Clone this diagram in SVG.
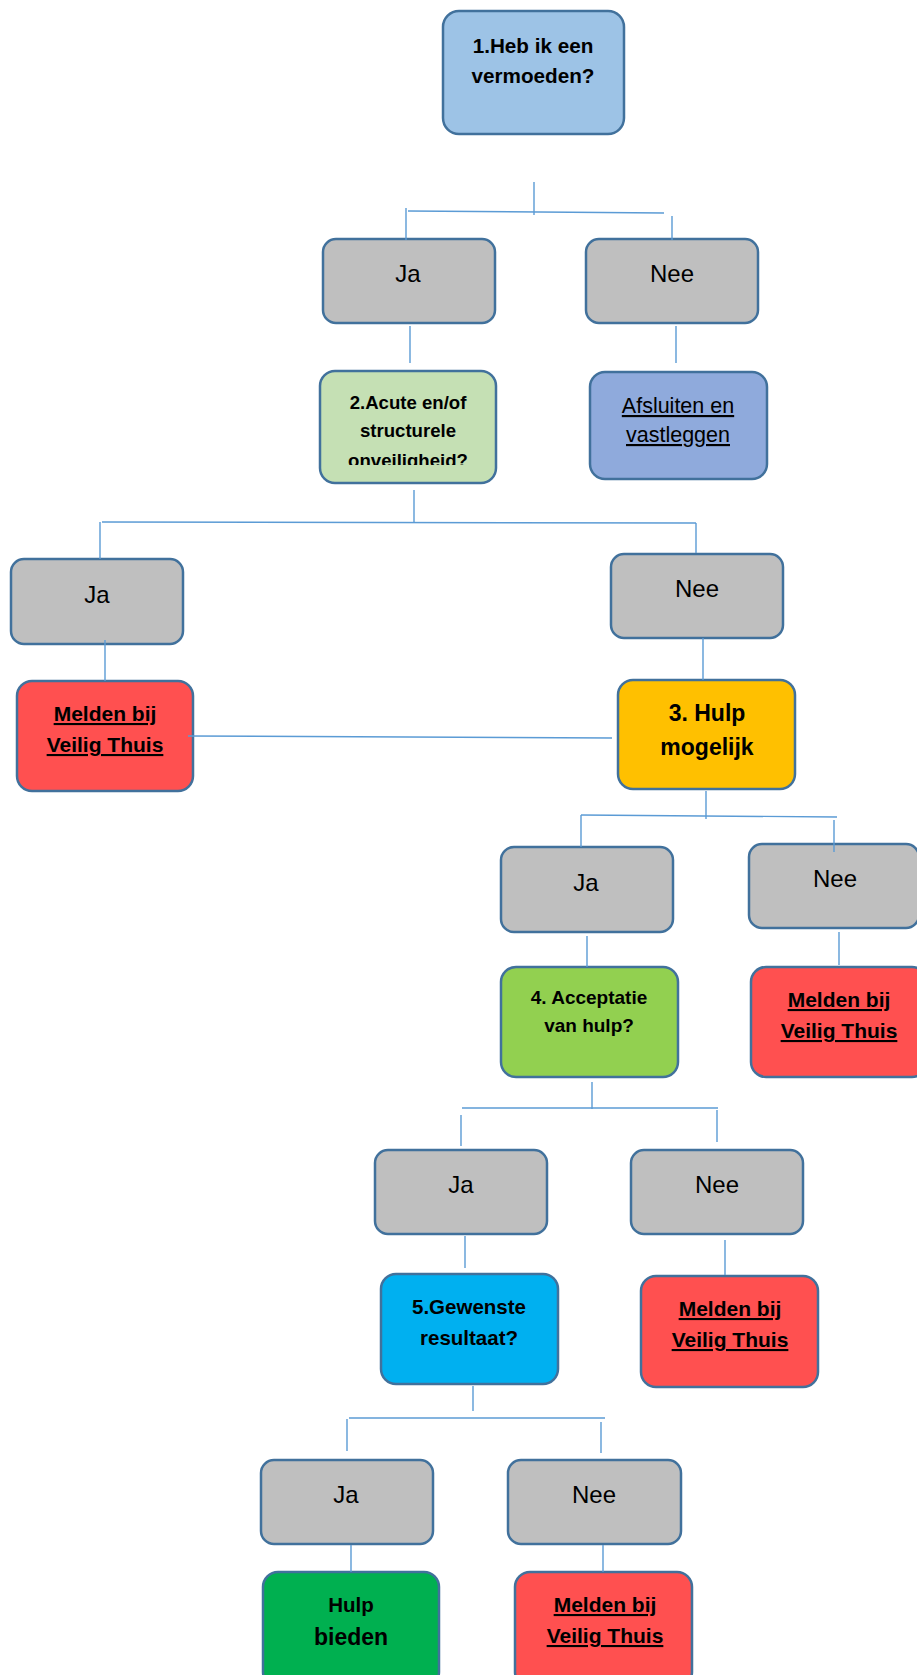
<svg xmlns="http://www.w3.org/2000/svg" width="917" height="1675" viewBox="0 0 917 1675">
<style>
.box{stroke:#41719C;stroke-width:2.5}
.gray{fill:#BFBFBF}
.red{fill:#FF5050}
.yn{font-family:"Liberation Sans",Arial,sans-serif;font-size:24px;fill:#000;text-anchor:middle}
.b{font-family:"Liberation Sans",Arial,sans-serif;font-weight:bold;fill:#000;text-anchor:middle}
.mel{font-size:21px;text-decoration:underline}
.con line{stroke:#5B9BD5;stroke-width:1.4}
</style>
<defs>
<clipPath id="clip2"><rect x="300" y="360" width="220" height="105"/></clipPath>
</defs>
<rect width="917" height="1675" fill="#fff"/>

<g id="n1"><rect class="box" x="443" y="11" width="181" height="123" rx="16" fill="#9DC3E6"/>
<text class="b" font-size="20.7" x="533" y="53">1.Heb ik een</text>
<text class="b" font-size="20.7" x="533" y="83">vermoeden?</text></g>

<g id="ja1"><rect class="box gray" x="323" y="239" width="172" height="84" rx="13"/><text class="yn" x="408" y="282">Ja</text></g>
<g id="nee1"><rect class="box gray" x="586" y="239" width="172" height="84" rx="13"/><text class="yn" x="672" y="282">Nee</text></g>

<g id="n2"><rect class="box" x="320" y="371" width="176" height="112" rx="15" fill="#C5E0B4"/>
<g clip-path="url(#clip2)">
<text class="b" font-size="18.6" x="408" y="409">2.Acute en/of</text>
<text class="b" font-size="18.6" x="408" y="437">structurele</text>
<text class="b" font-size="18.6" x="408" y="467">onveiligheid?</text></g></g>

<g id="afsluiten"><rect class="box" x="590" y="372" width="177" height="107" rx="15" fill="#8FAADC"/>
<text class="yn" x="678" y="413" style="font-size:21.5px;text-decoration:underline">Afsluiten en</text>
<text class="yn" x="678" y="442" style="font-size:21.5px;text-decoration:underline">vastleggen</text></g>

<g id="ja2"><rect class="box gray" x="11" y="559" width="172" height="85" rx="13"/><text class="yn" x="97" y="603">Ja</text></g>
<g id="nee2"><rect class="box gray" x="611" y="554" width="172" height="84" rx="13"/><text class="yn" x="697" y="597">Nee</text></g>

<g id="melden1"><rect class="box red" x="17" y="681" width="176" height="110" rx="15"/>
<text class="b mel" x="105" y="721">Melden bij</text>
<text class="b mel" x="105" y="752">Veilig Thuis</text></g>

<g id="n3"><rect class="box" x="618" y="680" width="177" height="109" rx="15" fill="#FFC000"/>
<text class="b" font-size="23" x="707" y="721">3. Hulp</text>
<text class="b" font-size="23" x="707" y="755">mogelijk</text></g>

<g id="ja3"><rect class="box gray" x="501" y="847" width="172" height="85" rx="13"/><text class="yn" x="586" y="891">Ja</text></g>
<g id="nee3"><rect class="box gray" x="749" y="844" width="170" height="84" rx="13"/><text class="yn" x="835" y="887">Nee</text></g>

<g id="n4"><rect class="box" x="501" y="967" width="177" height="110" rx="15" fill="#92D050"/>
<text class="b" font-size="19" x="589" y="1004">4. Acceptatie</text>
<text class="b" font-size="19" x="589" y="1032">van hulp?</text></g>

<g id="melden2"><rect class="box red" x="751" y="967" width="176" height="110" rx="15"/>
<text class="b mel" x="839" y="1007">Melden bij</text>
<text class="b mel" x="839" y="1038">Veilig Thuis</text></g>

<g id="ja4"><rect class="box gray" x="375" y="1150" width="172" height="84" rx="13"/><text class="yn" x="461" y="1193">Ja</text></g>
<g id="nee4"><rect class="box gray" x="631" y="1150" width="172" height="84" rx="13"/><text class="yn" x="717" y="1193">Nee</text></g>

<g id="n5"><rect class="box" x="381" y="1274" width="177" height="110" rx="15" fill="#00B0F0"/>
<text class="b" font-size="20.5" x="469" y="1314">5.Gewenste</text>
<text class="b" font-size="20.5" x="469" y="1345">resultaat?</text></g>

<g id="melden3"><rect class="box red" x="641" y="1276" width="177" height="111" rx="15"/>
<text class="b mel" x="730" y="1316">Melden bij</text>
<text class="b mel" x="730" y="1347">Veilig Thuis</text></g>

<g id="ja5"><rect class="box gray" x="261" y="1460" width="172" height="84" rx="13"/><text class="yn" x="346" y="1503">Ja</text></g>
<g id="nee5"><rect class="box gray" x="508" y="1460" width="173" height="84" rx="13"/><text class="yn" x="594" y="1503">Nee</text></g>

<g id="hulpbieden"><rect class="box" x="263" y="1572" width="176" height="115" rx="15" fill="#00B050"/>
<text class="b" font-size="20.5" x="351" y="1612">Hulp</text>
<text class="b" font-size="23" x="351" y="1645">bieden</text></g>

<g id="melden4"><rect class="box red" x="515" y="1572" width="177" height="115" rx="15"/>
<text class="b mel" x="605" y="1612">Melden bij</text>
<text class="b mel" x="605" y="1643">Veilig Thuis</text></g>

<g id="connectors" class="con">
<line x1="534" y1="182" x2="534" y2="215"/>
<line x1="408" y1="211" x2="664" y2="213"/>
<line x1="406" y1="208" x2="406" y2="240"/>
<line x1="672" y1="216" x2="672" y2="240"/>
<line x1="410" y1="326" x2="410" y2="363"/>
<line x1="676" y1="326" x2="676" y2="363"/>
<line x1="414" y1="490" x2="414" y2="522"/>
<line x1="102" y1="522" x2="696" y2="523"/>
<line x1="100" y1="522" x2="100" y2="559"/>
<line x1="696" y1="523" x2="696" y2="553"/>
<line x1="105" y1="640" x2="105" y2="681"/>
<line x1="703" y1="638" x2="703" y2="680"/>
<line x1="188" y1="736" x2="612" y2="738"/>
<line x1="706" y1="791" x2="706" y2="819"/>
<line x1="581" y1="815" x2="837" y2="817"/>
<line x1="581" y1="815" x2="581" y2="847"/>
<line x1="834" y1="820" x2="834" y2="852"/>
<line x1="587" y1="936" x2="587" y2="967"/>
<line x1="839" y1="932" x2="839" y2="965"/>
<line x1="592" y1="1082" x2="592" y2="1109"/>
<line x1="462" y1="1108" x2="718" y2="1108"/>
<line x1="461" y1="1115" x2="461" y2="1146"/>
<line x1="717" y1="1110" x2="717" y2="1142"/>
<line x1="465" y1="1236" x2="465" y2="1268"/>
<line x1="725" y1="1240" x2="725" y2="1275"/>
<line x1="473" y1="1386" x2="473" y2="1411"/>
<line x1="349" y1="1418" x2="605" y2="1418"/>
<line x1="347" y1="1419" x2="347" y2="1451"/>
<line x1="601" y1="1422" x2="601" y2="1453"/>
<line x1="351" y1="1545" x2="351" y2="1572"/>
<line x1="603" y1="1545" x2="603" y2="1572"/>
</g>
</svg>
